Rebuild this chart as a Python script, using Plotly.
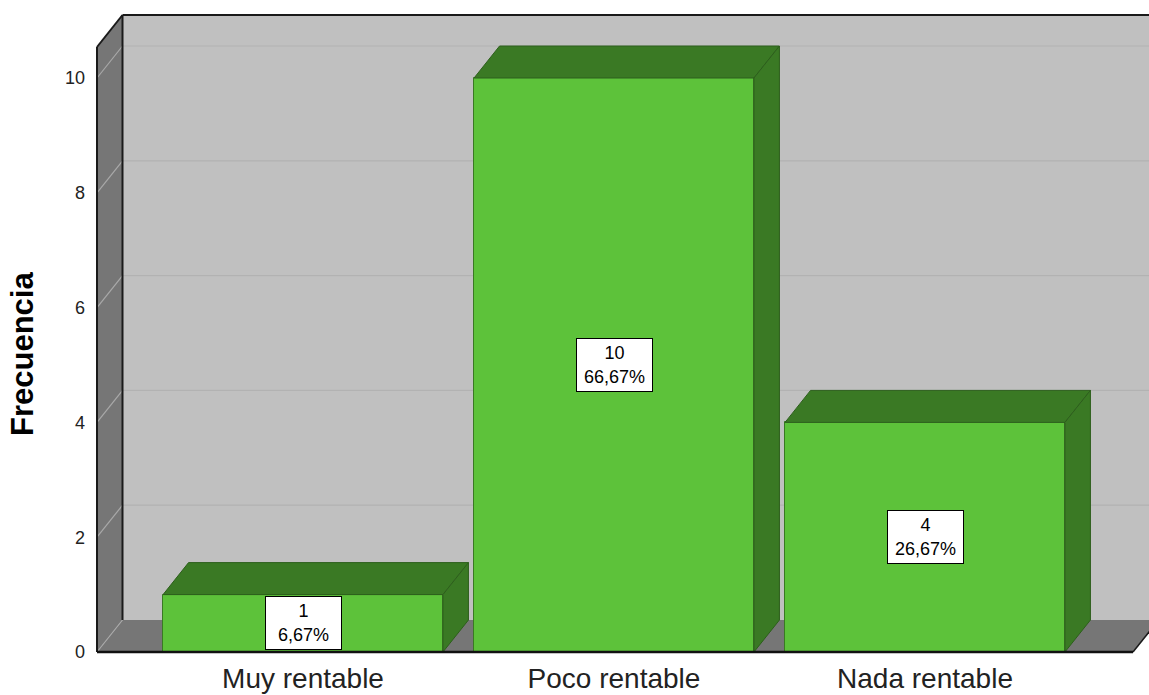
import plotly.graph_objects as go

# ---- data ----
categorias = ["Muy rentable", "Poco rentable", "Nada rentable"]
frecuencia = [1, 10, 4]
porcentaje = [6.67, 66.67, 26.67]
y_ticks = [0, 2, 4, 6, 8, 10]
y_titulo = "Frecuencia"

# ---- styling / geometry (axis units) ----
FRONT = "rgb(93,194,58)"
DARK = "rgb(58,121,36)"
WALL_BACK = "#C0C0C0"
WALL_SIDE = "#767676"
FONT = "Liberation Sans, Arial, sans-serif"

BAR_W = 0.90          # bar width (category units)
DX = 25.5 / 311       # depth offset in x
DY = 32 / 57.4        # depth offset in y
XL = -206 / 311       # left wall front edge
XR_FLOOR = 830 / 311  # floor right front corner
X_RANGE = [-209 / 311, 846 / 311]
Y_RANGE = [-3 / 57.4, 640 / 57.4]
WALL_TOP = 10.54
XBIG = X_RANGE[1] + 0.5

shapes = []

def poly_shape(pts, fill, line_color=None, lw=0):
    path = "M " + " L ".join(f"{x},{y}" for x, y in pts) + " Z"
    shapes.append(dict(type="path", path=path, xref="x", yref="y",
                       fillcolor=fill, layer="below",
                       line=dict(color=line_color or fill, width=lw)))

def line_shape(x0, y0, x1, y1, color, width):
    shapes.append(dict(type="line", x0=x0, y0=y0, x1=x1, y1=y1, xref="x", yref="y",
                       layer="below", line=dict(color=color, width=width)))

# back wall, left wall, floor
poly_shape([(XL + DX, DY), (XBIG, DY), (XBIG, WALL_TOP + DY), (XL + DX, WALL_TOP + DY)], WALL_BACK)
poly_shape([(XL, 0), (XL + DX, DY), (XL + DX, WALL_TOP + DY), (XL, WALL_TOP)], WALL_SIDE)
poly_shape([(XL, 0), (XR_FLOOR, 0), (XR_FLOOR + DX, DY), (XL + DX, DY)], WALL_SIDE)

# grid lines on back wall and left wall
for v in y_ticks:
    if v > 0:
        line_shape(XL + DX, v + DY, XBIG, v + DY, "#B2B2B2", 1.2)
    line_shape(XL, v, XL + DX, v + DY, "#A9A9A9", 1.2)

# wall edges
line_shape(XL + DX, WALL_TOP + DY, XBIG, WALL_TOP + DY, "#1a1a1a", 2)
line_shape(XL, WALL_TOP, XL + DX, WALL_TOP + DY, "#1a1a1a", 2)
line_shape(XL, 0, XL, WALL_TOP, "#1a1a1a", 2)
line_shape(XL + DX, DY, XL + DX, WALL_TOP + DY, "#1a1a1a", 2)
line_shape(XR_FLOOR, 0, XR_FLOOR + DX, DY, "#1a1a1a", 1.5)

fig = go.Figure()

def poly(xs_, ys_, fill, line_color=None, lw=0):
    fig.add_trace(go.Scatter(
        x=xs_ + [xs_[0]], y=ys_ + [ys_[0]], mode="lines", fill="toself",
        fillcolor=fill, line=dict(color=line_color or fill, width=lw),
        hoverinfo="skip", showlegend=False))

# bars: front faces
xs = list(range(len(categorias)))
fig.add_trace(go.Bar(x=xs, y=frecuencia, width=BAR_W,
                     marker=dict(color=FRONT, line=dict(color=DARK, width=1)),
                     hoverinfo="skip", showlegend=False))

# bars: top and side faces
h = BAR_W / 2
for c, v in zip(xs, frecuencia):
    poly([c - h, c + h, c + h + DX, c - h + DX], [v, v, v + DY, v + DY], DARK, "rgb(45,95,28)", 1)
    poly([c + h, c + h + DX, c + h + DX, c + h], [0, DY, v + DY, v], DARK, "rgb(45,95,28)", 1)

# floor front edge on top
fig.add_trace(go.Scatter(x=[XL, XR_FLOOR], y=[0, 0], mode="lines",
                         line=dict(color="#111111", width=2.5),
                         hoverinfo="skip", showlegend=False))

# data labels
for c, v, p in zip(xs, frecuencia, porcentaje):
    txt = f"{v}<br>{p:.2f}".replace(".", ",") + "%"
    fig.add_annotation(x=c, y=v / 2, text=txt, showarrow=False,
                       font=dict(family=FONT, size=18, color="black"),
                       bgcolor="white", bordercolor="black", borderwidth=1,
                       width=73, height=50, align="center", valign="middle")

# y-axis title
fig.add_annotation(text=f"<b>{y_titulo}</b>", xref="paper", yref="paper",
                   x=-72 / 1055, y=(655 - 354) / 643, textangle=-90,
                   showarrow=False, xanchor="center", yanchor="middle",
                   font=dict(family=FONT, size=31, color="black"))

fig.update_layout(
    width=1149, height=695,
    margin=dict(l=94, r=0, t=12, b=40),
    paper_bgcolor="white", plot_bgcolor="white",
    bargap=0, font=dict(family=FONT, color="black"),
    shapes=shapes,
    xaxis=dict(range=X_RANGE, tickvals=xs, ticktext=categorias,
               showgrid=False, zeroline=False, showline=False,
               tickfont=dict(size=28, color="#222"), ticks="",
               ticklabelstandoff=4),
    yaxis=dict(range=Y_RANGE, tickvals=y_ticks,
               showgrid=False, zeroline=False, showline=False,
               tickfont=dict(size=18, color="#222"), ticks="",
               ticklabelstandoff=8),
)

fig.write_html("out.html")
